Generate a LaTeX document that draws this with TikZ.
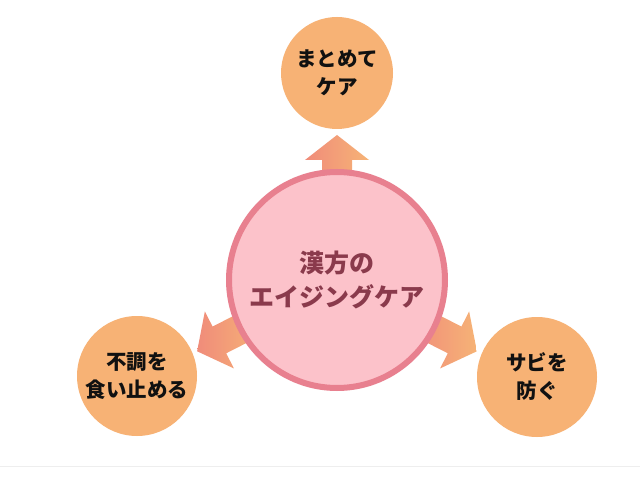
\documentclass[tikz,border=0pt]{standalone}
\usepackage{fontspec}
\setmainfont{Noto Sans CJK JP}
\begin{document}
\begin{tikzpicture}[x=1pt,y=1pt,
  core/.style={circle, minimum size=216pt, inner sep=0pt, fill=coreFill, draw=coreRim, line width=6pt,
    text=coreText, align=center, font=\fontsize{25}{34}\selectfont\bfseries},
  leaf/.style={circle, minimum size=#1, inner sep=0pt, fill=leafFill,
    text=leafText, align=center, font=\fontsize{20.5}{28}\selectfont\bfseries},
  blockarrow/.style={left color=arrowBase, right color=arrowTip, draw=none}]
\definecolor{coreFill}{HTML}{FCC2CA}
\definecolor{coreRim}{HTML}{E8808F}
\definecolor{coreText}{HTML}{8A3A4C}
\definecolor{leafFill}{HTML}{F7B275}
\definecolor{leafText}{HTML}{111111}
\definecolor{arrowBase}{HTML}{F08C7A}
\definecolor{arrowTip}{HTML}{F6B376}
\definecolor{rule}{HTML}{EEEEEE}
\useasboundingbox (0,0) rectangle (640,480);
\fill[white] (0,0) rectangle (640,480);
\coordinate (ruleL) at (0,14);
\coordinate (ruleR) at (640,14);
\draw[rule, line width=1pt] (ruleL) -- (ruleR);
\coordinate (c) at (337,200);
% block arrows
\foreach \ang/\tip in {90/145, 207/157, 333/157}{
  \begin{scope}[shift={(c)}, rotate=\ang]
    \shade[blockarrow] (90,-15) -- (\tip-25,-15) -- (\tip-25,-32) -- (\tip,0) -- (\tip-25,32) -- (\tip-25,15) -- (90,15) -- cycle;
  \end{scope}
}
\node[core] (center) at (c) {漢方の\\エイジングケア};
\node[leaf=112pt] (top) at (337,407) {まとめて\\ケア};
\node[leaf=120pt] (left) at (137,104) {不調を\\食い止める};
\node[leaf=120pt] (right) at (537,103) {サビを\\防ぐ};
\end{tikzpicture}
\end{document}
